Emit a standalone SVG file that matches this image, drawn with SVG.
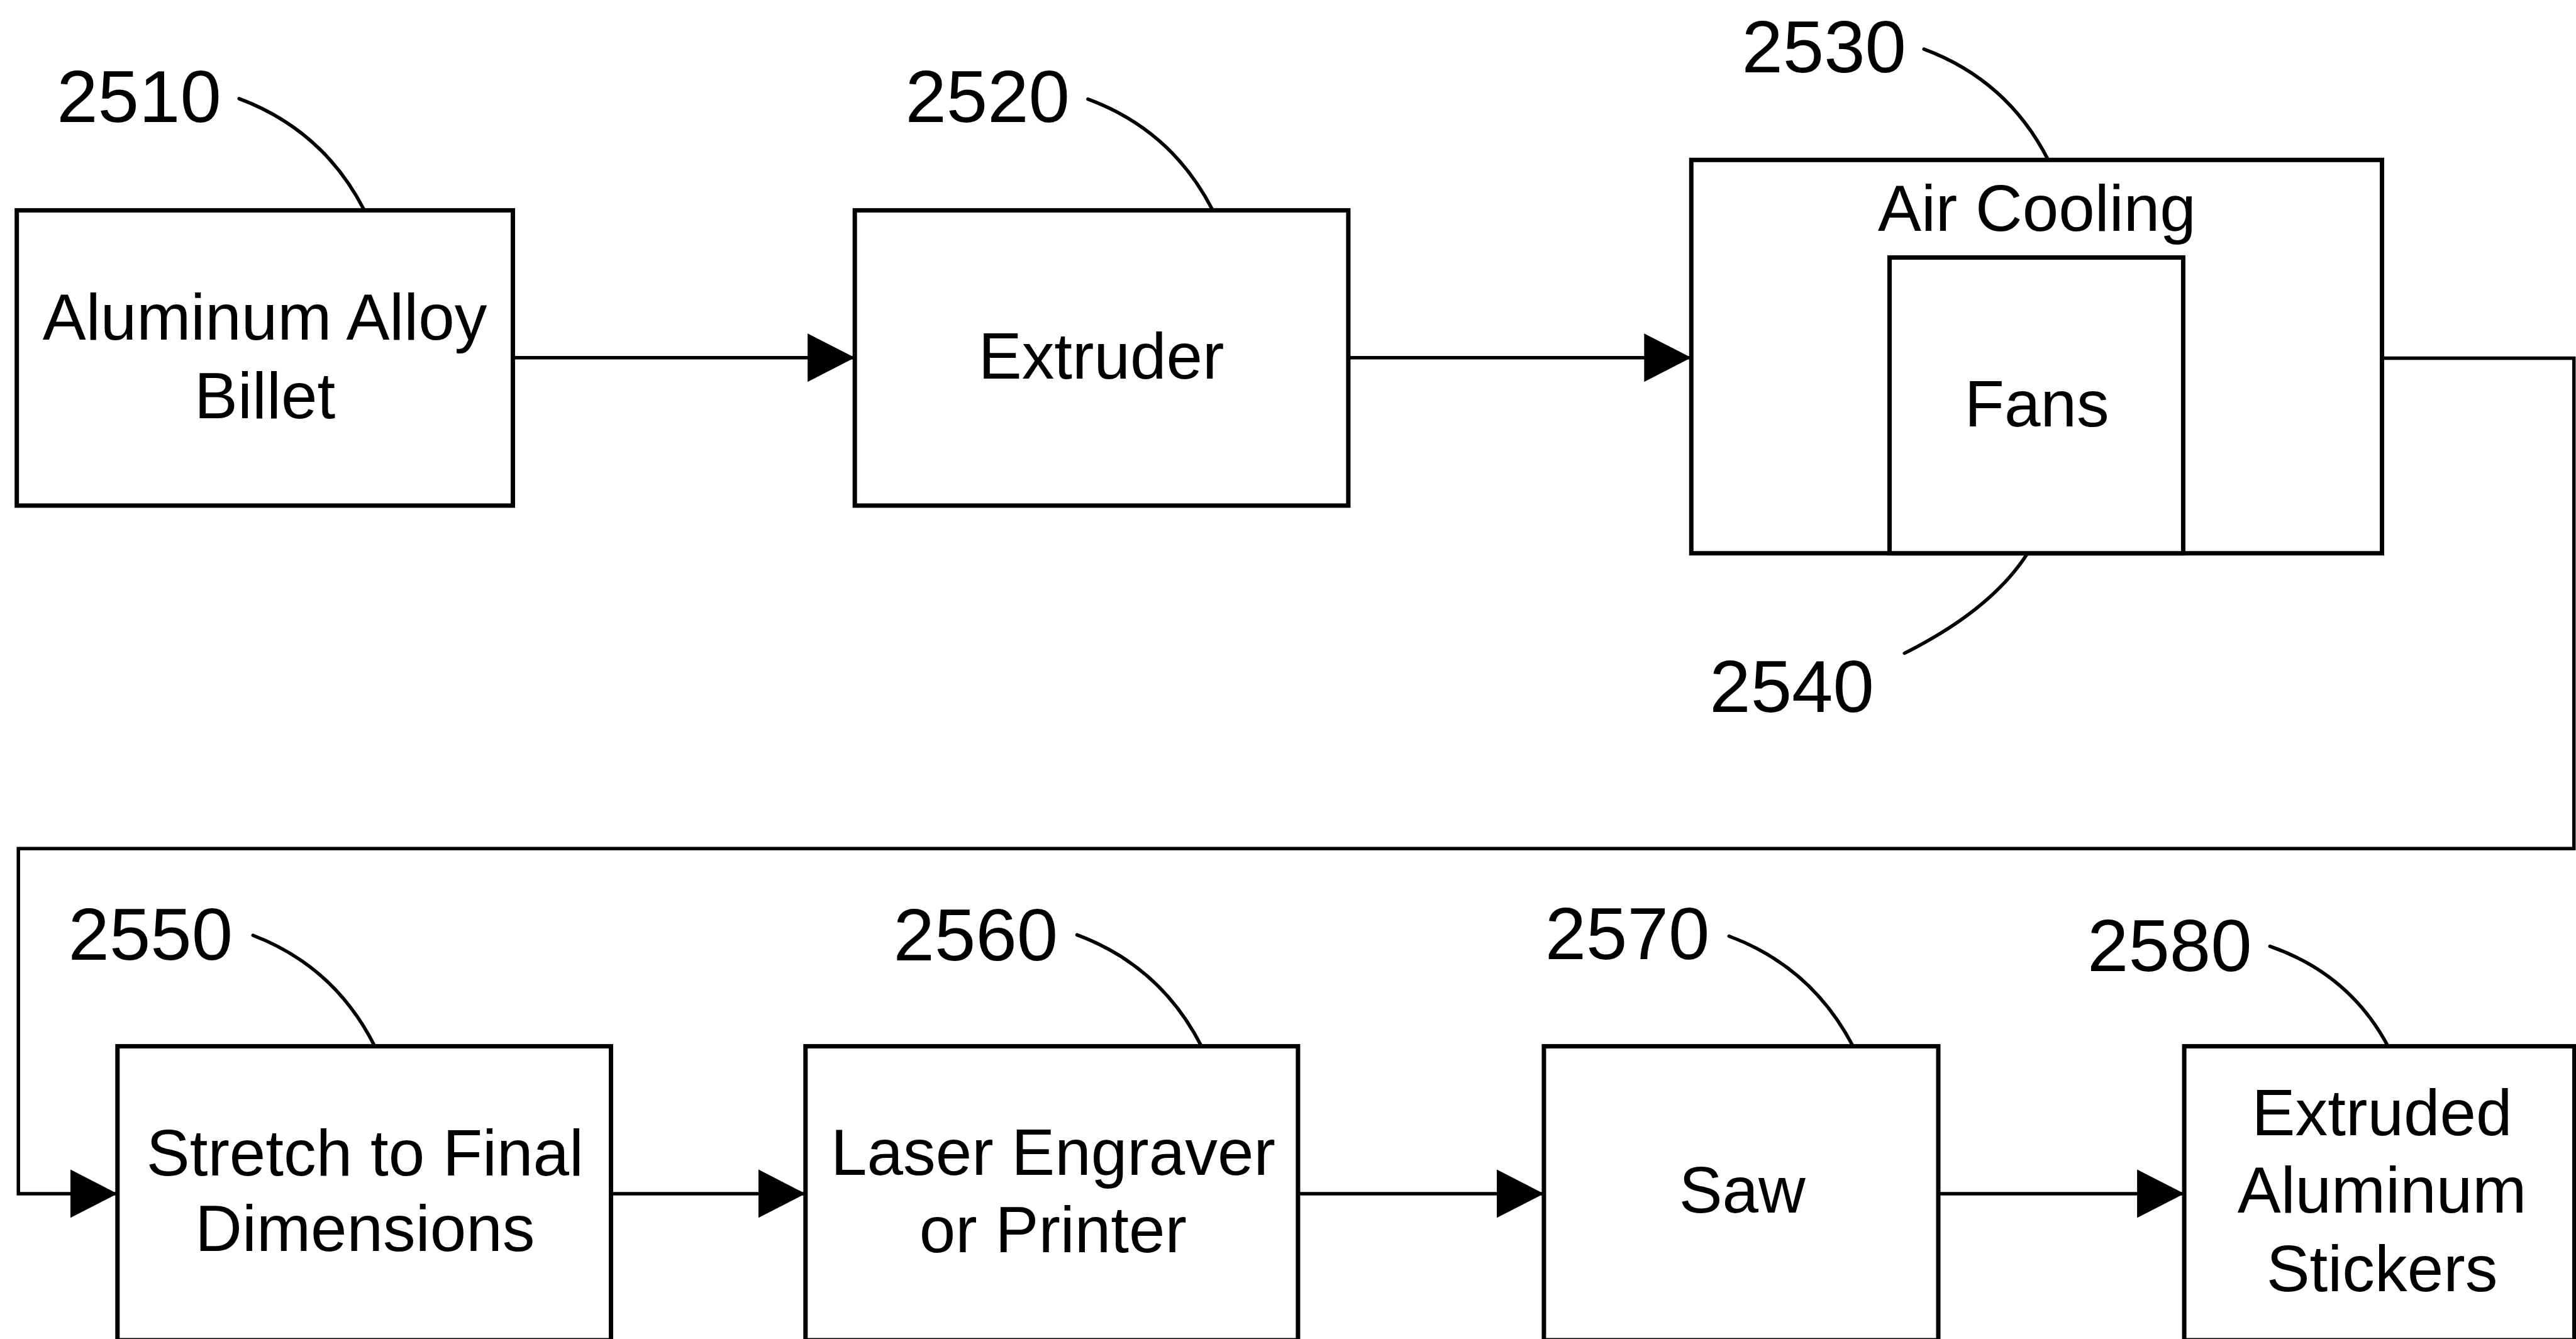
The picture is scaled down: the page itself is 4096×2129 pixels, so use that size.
<svg xmlns="http://www.w3.org/2000/svg" width="4096" height="2129" viewBox="0 0 4096 2129">
<style>
.box{fill:#fff;stroke:#000;stroke-width:7}
.conn{fill:none;stroke:#000;stroke-width:5.5}
.lead{fill:none;stroke:#000;stroke-width:5.5;stroke-linecap:round}
.lbl{font-family:"Liberation Sans",Arial,sans-serif;font-size:103.4px;fill:#000;text-anchor:middle}
.num{font-family:"Liberation Sans",Arial,sans-serif;font-size:117.6px;fill:#000;text-anchor:middle}
</style>
<defs>
<marker id="arr" viewBox="0 0 75 77" refX="75" refY="38.5" markerWidth="75" markerHeight="77" markerUnits="userSpaceOnUse" orient="auto">
<path d="M0,0 L75,38.5 L0,77 Z" fill="#000"/>
</marker>
</defs>
<rect width="4096" height="2129" fill="#fff"/>
<g id="connectors">
<line class="conn" x1="815.5" y1="568.7" x2="1359.2" y2="568.7" marker-end="url(#arr)"/>
<line class="conn" x1="2143.9" y1="568.7" x2="2689.3" y2="568.7" marker-end="url(#arr)"/>
<path class="conn" d="M3787.5,569.5 H4092.7 V1349.2 H29.2 V1897.9 H186.8" marker-end="url(#arr)"/>
<line class="conn" x1="971.5" y1="1897.9" x2="1280.8" y2="1897.9" marker-end="url(#arr)"/>
<line class="conn" x1="2063.9" y1="1897.9" x2="2454.9" y2="1897.9" marker-end="url(#arr)"/>
<line class="conn" x1="3082" y1="1897.9" x2="3473.1" y2="1897.9" marker-end="url(#arr)"/>
</g>
<g id="n2510">
<rect class="box" x="26.7" y="334.4" width="788.8" height="469.5"/>
<text class="lbl" x="421.1" y="539.5">Aluminum Alloy</text>
<text class="lbl" x="421.1" y="664.6">Billet</text>
<text class="num" x="221" y="194.3">2510</text>
<path class="lead" d="M380.2,156.8 Q513.7,206.8 579.1,334"/>
</g>
<g id="n2520">
<rect class="box" x="1359.2" y="334.4" width="784.7" height="469.5"/>
<text class="lbl" x="1751.1" y="602.1">Extruder</text>
<text class="num" x="1570.2" y="194.3">2520</text>
<path class="lead" d="M1729.9,157.6 Q1862.9,206.8 1927.9,333.6"/>
</g>
<g id="n2530">
<rect class="box" x="2689.3" y="254.3" width="1098.2" height="625.4"/>
<text class="lbl" x="3238.8" y="366.9">Air Cooling</text>
<text class="num" x="2900.2" y="115.1">2530</text>
<path class="lead" d="M3059.2,78.2 Q3192.1,127.6 3256.7,254.3"/>
</g>
<g id="n2540">
<rect class="box" x="3004.5" y="409.4" width="466.9" height="470.3"/>
<text class="lbl" x="3238.8" y="677.5">Fans</text>
<text class="num" x="2849.1" y="1131.6">2540</text>
<path class="lead" d="M3028.3,1038.6 Q3166.9,969 3223.9,879.7"/>
</g>
<g id="n2550">
<rect class="box" x="186.8" y="1663.6" width="784.7" height="467.4"/>
<text class="lbl" x="580.4" y="1868.7">Stretch to Final</text>
<text class="lbl" x="580.4" y="1988.8">Dimensions</text>
<text class="num" x="239.3" y="1526">2550</text>
<path class="lead" d="M402.3,1487.2 Q532,1536.8 595.9,1663.6"/>
</g>
<g id="n2560">
<rect class="box" x="1280.8" y="1663.6" width="783.1" height="467.4"/>
<text class="lbl" x="1674.4" y="1867.9">Laser Engraver</text>
<text class="lbl" x="1674.4" y="1990.5">or Printer</text>
<text class="num" x="1551.4" y="1526.8">2560</text>
<path class="lead" d="M1712.5,1486.4 Q1845.4,1536 1910.4,1663.6"/>
</g>
<g id="n2570">
<rect class="box" x="2454.9" y="1663.6" width="627.1" height="467.4"/>
<text class="lbl" x="2770.2" y="1928">Saw</text>
<text class="num" x="2587.5" y="1524.8">2570</text>
<path class="lead" d="M2749.3,1488.5 Q2881,1537.7 2946.4,1663.6"/>
</g>
<g id="n2580">
<rect class="box" x="3473.1" y="1663.6" width="620.4" height="467.4"/>
<text class="lbl" x="3787.5" y="1805.4">Extruded</text>
<text class="lbl" x="3787.5" y="1928">Aluminum</text>
<text class="lbl" x="3787.5" y="2053">Stickers</text>
<text class="num" x="3449.8" y="1544">2580</text>
<path class="lead" d="M3609.4,1504.6 Q3735.8,1548.5 3797.1,1663.6"/>
</g>
</svg>
